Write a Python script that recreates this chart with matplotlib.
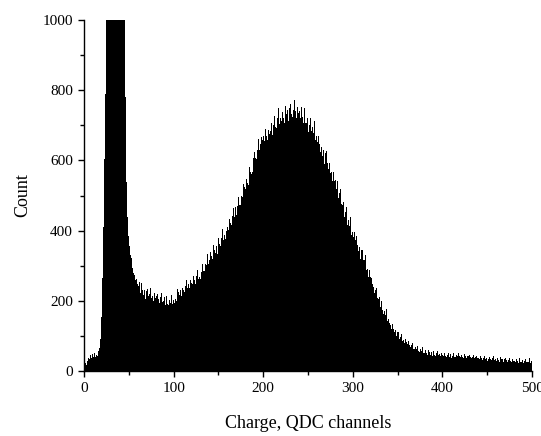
"""QDC charge spectrum histogram."""

import matplotlib

matplotlib.use("Agg")
import matplotlib.pyplot as plt
from matplotlib.ticker import MultipleLocator
import numpy as np

# counts per QDC channel, channels 0..499 (peak near 35 is clipped by the axis)
counts = [
    8, 22, 18, 30, 26, 38, 33, 45, 36, 48, 41, 52, 39, 47, 55, 44, 58, 66, 92, 155,
    265, 410, 605, 790, 935, 1080, 1210, 1340, 1450, 1530, 1580, 1610, 1620, 1600, 1570, 1530, 1480, 1420, 1360, 1300,
    1240, 1180, 1140, 1100, 1060, 1010, 780, 540, 440, 385, 355, 332, 322, 298, 294, 279, 274, 260, 262, 249,
    242, 255, 237, 222, 252, 230, 216, 230, 205, 228, 233, 213, 205, 219, 236, 207, 214, 199, 221, 209,
    213, 202, 220, 205, 195, 211, 223, 198, 200, 210, 187, 200, 214, 192, 187, 202, 195, 218, 191, 201,
    195, 214, 206, 200, 233, 224, 216, 231, 213, 237, 245, 230, 226, 242, 259, 238, 247, 237, 258, 250,
    258, 248, 272, 258, 249, 271, 288, 263, 268, 285, 263, 283, 304, 284, 284, 305, 302, 333, 305, 321,
    316, 339, 327, 318, 360, 344, 335, 357, 334, 368, 380, 361, 357, 379, 404, 374, 387, 377, 406, 398,
    409, 401, 433, 421, 415, 441, 464, 438, 447, 468, 444, 470, 495, 474, 474, 500, 497, 534, 503, 523,
    518, 547, 537, 531, 582, 568, 560, 589, 567, 608, 625, 607, 605, 631, 662, 631, 646, 634, 668, 657,
    670, 656, 691, 671, 659, 688, 713, 676, 684, 706, 673, 700, 727, 696, 692, 720, 710, 749, 704, 722,
    712, 738, 720, 706, 756, 733, 718, 743, 711, 749, 760, 732, 723, 745, 771, 729, 740, 720, 752, 734,
    740, 721, 751, 725, 707, 730, 749, 706, 707, 722, 682, 702, 722, 684, 673, 694, 678, 711, 659, 670,
    652, 671, 646, 625, 668, 637, 614, 631, 591, 622, 626, 592, 576, 592, 612, 563, 567, 541, 566, 542,
    543, 520, 542, 513, 492, 507, 519, 475, 472, 481, 440, 454, 467, 429, 415, 430, 412, 439, 389, 397,
    382, 395, 373, 354, 386, 360, 341, 353, 320, 344, 346, 317, 303, 315, 330, 289, 291, 269, 287, 267,
    265, 248, 260, 239, 223, 232, 238, 208, 205, 210, 183, 191, 200, 173, 163, 172, 159, 176, 143, 147,
    137, 142, 130, 120, 135, 121, 110, 116, 99, 111, 112, 98, 91, 97, 106, 87, 89, 80, 91, 82,
    84, 76, 85, 75, 68, 75, 80, 64, 64, 69, 55, 63, 70, 57, 54, 62, 56, 68, 51, 56,
    52, 59, 52, 47, 60, 53, 47, 54, 42, 54, 57, 47, 44, 51, 58, 45, 48, 42, 51, 46,
    47, 43, 51, 44, 40, 47, 52, 41, 43, 48, 38, 44, 50, 41, 39, 46, 42, 51, 39, 43,
    39, 45, 40, 36, 48, 42, 37, 43, 34, 44, 46, 39, 36, 40, 47, 37, 39, 35, 42, 38,
    38, 34, 42, 36, 32, 38, 44, 34, 35, 38, 30, 35, 41, 33, 31, 37, 34, 43, 32, 35,
    30, 36, 31, 27, 39, 33, 28, 34, 26, 35, 37, 31, 27, 31, 38, 28, 30, 26, 33, 30,
    30, 26, 33, 28, 24, 30, 36, 26, 27, 31, 23, 28, 34, 27, 25, 30, 27, 36, 24, 28,
]
channel_edges = np.arange(len(counts) + 1)

x_label = "Charge, QDC channels"
y_label = "Count"

plt.rcParams["font.family"] = ["Liberation Serif", "DejaVu Serif"]

fig = plt.figure(figsize=(5.41, 4.36), dpi=100)
ax = fig.add_axes([0.1553, 0.149, 0.8281, 0.805])

ax.stairs(counts, channel_edges, fill=True, color="black", linewidth=0)

ax.set_xlim(0, 500)
ax.set_ylim(0, 1000)
ax.xaxis.set_major_locator(MultipleLocator(100))
ax.xaxis.set_minor_locator(MultipleLocator(50))
ax.yaxis.set_major_locator(MultipleLocator(200))
ax.yaxis.set_minor_locator(MultipleLocator(100))

for side in ("top", "right"):
    ax.spines[side].set_visible(False)
for side in ("left", "bottom"):
    ax.spines[side].set_linewidth(1.0)

ax.tick_params(which="major", direction="out", length=4.5, width=1.0,
               labelsize=11, pad=3.5)
ax.tick_params(which="minor", direction="out", length=3, width=1.0)

ax.set_xlabel(x_label, fontsize=13, labelpad=14)
ax.set_ylabel(y_label, fontsize=13, labelpad=8)

fig.savefig("out.png", dpi=100)
